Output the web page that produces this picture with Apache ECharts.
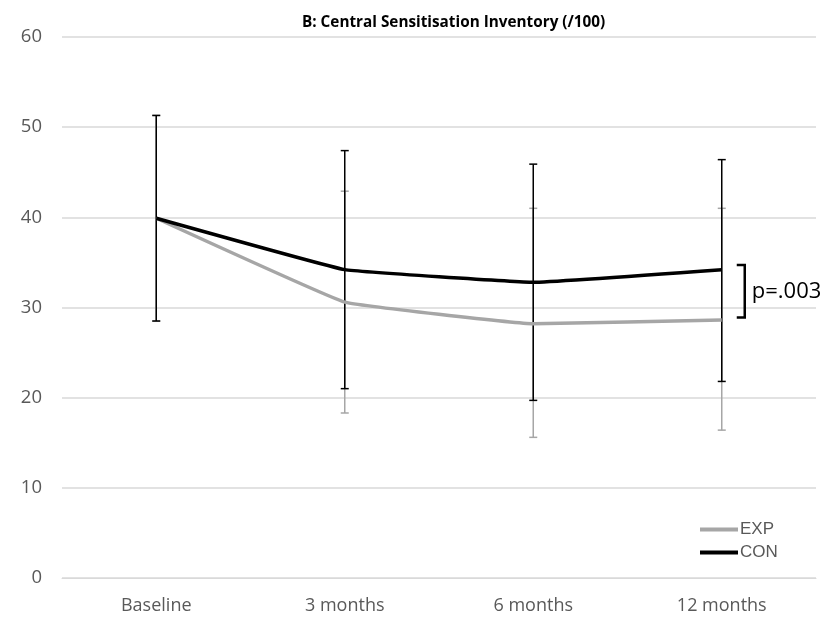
<!DOCTYPE html>
<html><head><meta charset="utf-8">
<script src="https://cdn.jsdelivr.net/npm/echarts@6/dist/echarts.min.js"></script>
<style>html,body{margin:0;padding:0;background:#fff}#c{width:836px;height:618px}</style>
</head><body><div id="c"></div>
<script>
const categories = ['Baseline', '3 months', '6 months', '12 months'];
const expMean = [39.9, 30.6, 28.2, 28.6];
const expLow = [28.5, 18.3, 15.6, 16.4];
const expHigh = [51.3, 42.9, 41.0, 41.0];
const conMean = [39.9, 34.2, 32.8, 34.2];
const conLow = [28.5, 21.0, 19.7, 21.8];
const conHigh = [51.3, 47.4, 45.9, 46.4];
const bracket = [[3, 28.9, 34.7]];
const pLabel = 'p=.003';

const chart = echarts.init(document.getElementById('c'));
const FONT = '"Open Sans", "Liberation Sans", sans-serif';

function errorSeries(name, low, high, color) {
  return {
    type: 'custom', name: name + ' err', z: 2,
    data: low.map((l, i) => [i, l, high[i]]),
    renderItem: function (params, api) {
      const p1 = api.coord([api.value(0), api.value(1)]);
      const p2 = api.coord([api.value(0), api.value(2)]);
      const w = 4;
      const st = { stroke: color, lineWidth: 1.5 };
      return { type: 'group', children: [
        { type: 'line', shape: { x1: p1[0], y1: p1[1], x2: p2[0], y2: p2[1] }, style: st },
        { type: 'line', shape: { x1: p1[0] - w, y1: p1[1], x2: p1[0] + w, y2: p1[1] }, style: st },
        { type: 'line', shape: { x1: p2[0] - w, y1: p2[1], x2: p2[0] + w, y2: p2[1] }, style: st }
      ]};
    },
    silent: true
  };
}

chart.setOption({
  animation: false,
  title: {
    text: 'B: Central Sensitisation Inventory (/100)',
    left: 297, top: 10,
    textStyle: { fontFamily: FONT, fontSize: 15.3, fontWeight: 'bold', color: '#000' }
  },
  legend: {
    orient: 'vertical', left: 695, top: 516, itemGap: 6,
    itemWidth: 38, itemHeight: 4, icon: 'rect',
    data: ['EXP', 'CON'],
    textStyle: { fontFamily: '"Liberation Sans", Arial, sans-serif', fontSize: 17, color: '#595959', padding: [0, 0, 0, -3] }
  },
  grid: { left: 62, right: 20, top: 37, bottom: 40 },
  xAxis: {
    type: 'category', data: categories,
    axisLine: { lineStyle: { color: '#d9d9d9', width: 1 } },
    axisTick: { show: false },
    axisLabel: { fontFamily: FONT, fontSize: 18, color: '#595959', margin: 19 }
  },
  yAxis: {
    type: 'value', min: 0, max: 60, interval: 10,
    axisLine: { show: false }, axisTick: { show: false },
    splitLine: { lineStyle: { color: '#d9d9d9', width: 1.5 } },
    axisLabel: { fontFamily: FONT, fontSize: 18.5, color: '#595959', margin: 20 }
  },
  series: [
    errorSeries('EXP', expLow, expHigh, '#a6a6a6'),
    errorSeries('CON', conLow, conHigh, '#000000'),
    { name: 'EXP', type: 'line', data: expMean, symbol: 'none', smooth: 0.07, z: 3,
      lineStyle: { color: '#a6a6a6', width: 3.5 }, itemStyle: { color: '#a6a6a6' } },
    { name: 'CON', type: 'line', data: conMean, symbol: 'none', smooth: 0.07, z: 4,
      lineStyle: { color: '#000000', width: 3.5 }, itemStyle: { color: '#000000' } },
    {
      type: 'custom', name: 'bracket', z: 5, silent: true, data: bracket,
      renderItem: function (params, api) {
        const a = api.coord([api.value(0), api.value(1)]);
        const b = api.coord([api.value(0), api.value(2)]);
        const x = a[0] + 23;
        const st = { stroke: '#000', lineWidth: 2.5, fill: null };
        return { type: 'group', children: [
          { type: 'polyline', shape: { points: [[x - 8, b[1]], [x, b[1]], [x, a[1]], [x - 8, a[1]]] }, style: st },
          { type: 'text', style: { text: pLabel, x: x + 7, y: (a[1] + b[1]) / 2, verticalAlign: 'middle',
            font: '22px ' + FONT, fill: '#000' } }
        ]};
      }
    }
  ]
});
</script></body></html>
